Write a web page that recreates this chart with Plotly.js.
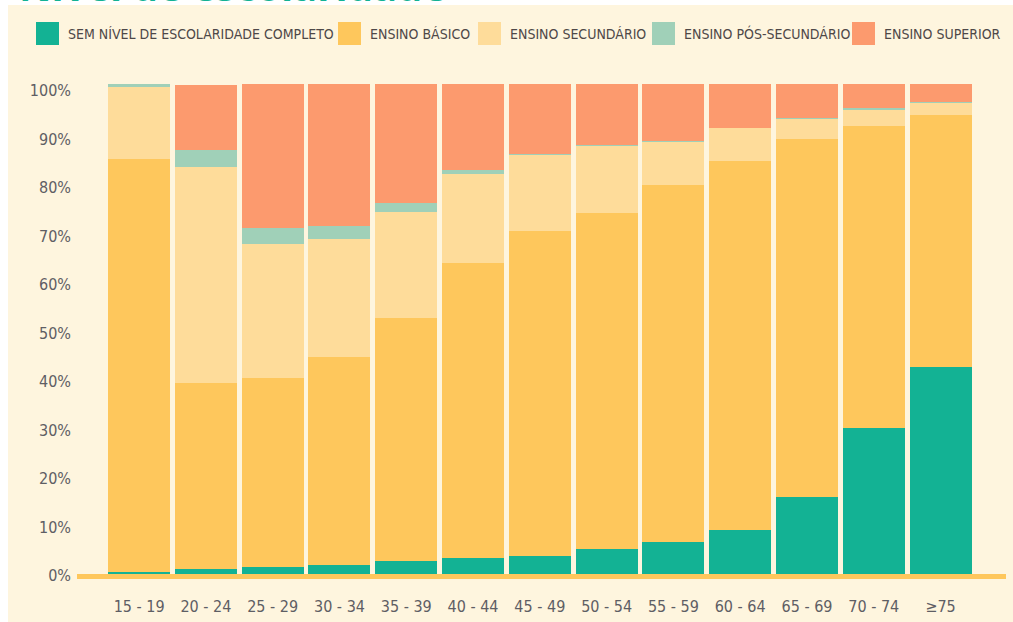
<!DOCTYPE html>
<html>
<head>
<meta charset="utf-8">
<script src="https://cdn.plot.ly/plotly-3.0.1.min.js"></script>
<style>html,body{margin:0;padding:0;background:#fff;}#chart{width:1013px;height:622px;}</style>
</head>
<body>
<div id="chart"></div>
<script>
// Age groups (x categories)
const ageGroups = ['15 - 19','20 - 24','25 - 29','30 - 34','35 - 39','40 - 44','45 - 49','50 - 54','55 - 59','60 - 64','65 - 69','70 - 74','\u226575'];

// Series values (%)
const semNivel      = [0.8, 1.3, 1.7, 2.2, 2.9, 3.7, 4.1, 5.4, 7.0, 9.4, 16.1, 30.5, 43.0];
const ensinoBasico  = [85.0, 38.4, 39.0, 42.8, 50.2, 60.7, 67.0, 69.3, 73.5, 76.1, 73.8, 62.2, 51.9];
const ensinoSecund  = [14.9, 44.6, 27.6, 24.4, 21.8, 18.4, 15.6, 13.9, 8.8, 6.7, 4.2, 3.3, 2.6];
const ensinoPosSec  = [0.6, 3.4, 3.3, 2.7, 2.0, 0.9, 0.3, 0.1, 0.3, 0.1, 0.2, 0.3, 0.2];
const ensinoSuper   = [0.0, 13.5, 29.7, 29.2, 24.4, 17.6, 14.3, 12.7, 11.7, 9.0, 7.0, 5.0, 3.6];

const seriesNames  = ['SEM N\u00cdVEL DE ESCOLARIDADE COMPLETO','ENSINO B\u00c1SICO','ENSINO SECUND\u00c1RIO','ENSINO P\u00d3S-SECUND\u00c1RIO','ENSINO SUPERIOR'];
const seriesColors = ['#13b294','#fec75c','#fedc9a','#a0d0b8','#fc9a6e'];
const seriesValues = [semNivel, ensinoBasico, ensinoSecund, ensinoPosSec, ensinoSuper];

const yTicks = [0,10,20,30,40,50,60,70,80,90,100];
const titleText = 'N\u00edvel de escolaridade';

const FONT = '"DejaVu Sans Condensed", "Liberation Sans Narrow", "Liberation Sans", sans-serif';

// pixel helpers for the paper coordinate system (plot area 77..1006 x 80..580)
const W = 1013, H = 622, ML = 77, MR = 7, MT = 80, MB = 42;
const PW = W - ML - MR, PH = H - MT - MB;
const px = x => (x - ML) / PW;
const py = y => (H - MB - y) / PH;

const traces = seriesValues.map((vals, i) => ({
  type: 'bar',
  name: seriesNames[i],
  x: ageGroups,
  y: vals,
  marker: {color: seriesColors[i], line: {width: 0}},
  showlegend: false,
  hoverinfo: 'x+y+name'
}));

// custom legend (squares + labels)
const legendSquareX = [36, 338, 478, 652, 852];
const shapes = [
  {type:'rect', xref:'paper', yref:'paper', x0:px(8), x1:px(1013), y0:py(5), y1:py(622), fillcolor:'#fef5de', line:{width:0}, layer:'below'},
  {type:'line', xref:'paper', yref:'y', x0:0, x1:1, y0:-0.2, y1:-0.2, line:{color:'#fec75c', width:5}, layer:'above'}
];
const annotations = [
  {xref:'paper', yref:'paper', x:px(18), y:py(14), xanchor:'left', yanchor:'bottom', showarrow:false,
   text:'<b>'+titleText+'</b>', font:{family:'"Open Sans", sans-serif', size:40, color:'#13b294'}, borderpad:0}
];
seriesNames.forEach((n, i) => {
  shapes.push({type:'rect', xref:'paper', yref:'paper', x0:px(legendSquareX[i]), x1:px(legendSquareX[i]+23), y0:py(45), y1:py(22), fillcolor:seriesColors[i], line:{width:0}});
  annotations.push({xref:'paper', yref:'paper', x:px(legendSquareX[i]+30), y:py(33.5), xanchor:'left', yanchor:'middle', showarrow:false,
    text:n, font:{family:FONT, size:14, color:'#4e4848'}});
});

const layout = {
  width: W, height: H,
  margin: {l: ML, r: MR, t: MT, b: MB, pad: 0},
  paper_bgcolor: '#ffffff',
  plot_bgcolor: 'rgba(0,0,0,0)',
  barmode: 'stack',
  bargap: 0.072,
  showlegend: false,
  xaxis: {
    type: 'category',
    range: [-0.93, 12.98],
    showgrid: false, zeroline: false, showline: false, ticks: '',
    tickfont: {family: FONT, size: 16, color: '#5e5e64'},
    ticklabelstandoff: 15,
    fixedrange: true
  },
  yaxis: {
    range: [-0.928, 102.16],
    tickvals: yTicks,
    ticktext: yTicks.map(v => v + '%'),
    showgrid: false, zeroline: false, showline: false, ticks: '',
    tickfont: {family: FONT, size: 16, color: '#5e5e64'},
    ticklabelstandoff: 5,
    fixedrange: true
  },
  shapes: shapes,
  annotations: annotations
};

Plotly.newPlot('chart', traces, layout, {displayModeBar: false, staticPlot: true});
</script>
</body>
</html>
